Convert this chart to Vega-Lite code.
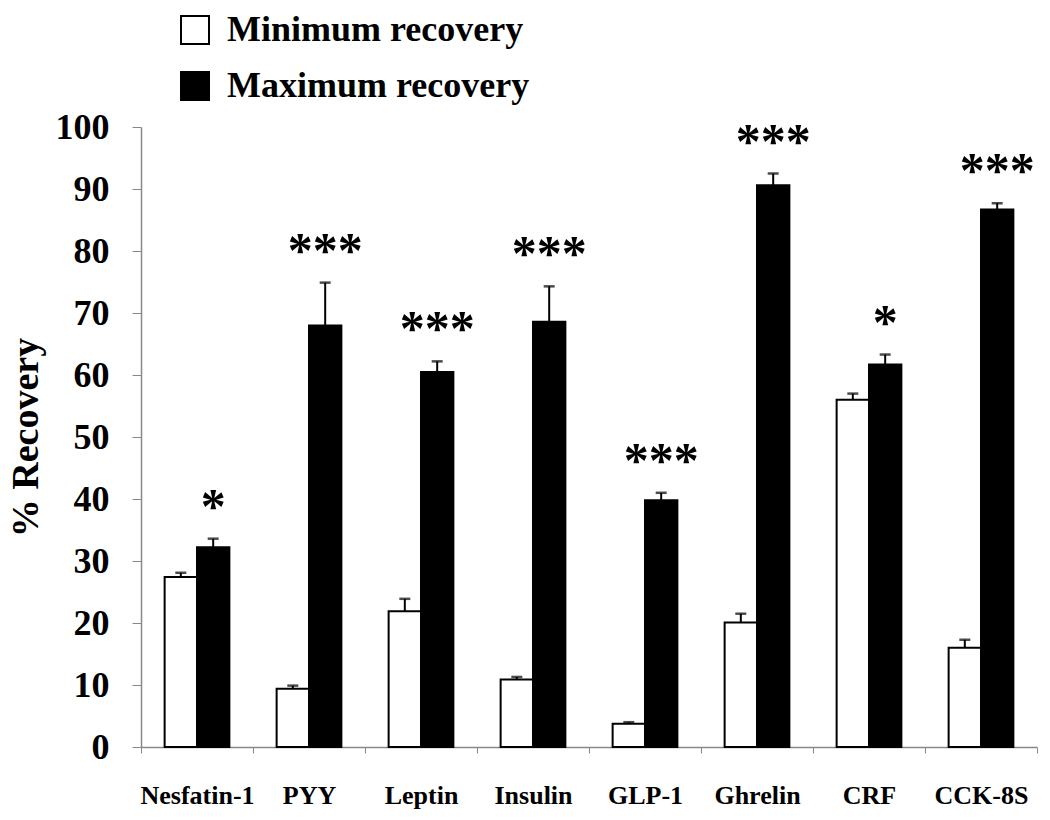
{
  "$schema": "https://vega.github.io/schema/vega-lite/v6.json",
  "autosize": {"type": "none"},
  "padding": {"left": 141, "top": 127, "right": 13, "bottom": 73},
  "width": 896,
  "height": 620,
  "background": "white",
  "config": {
    "view": {"stroke": null},
    "font": "Liberation Serif"
  },
  "data": {
    "values": [
      {"hormone": "Nesfatin-1", "group": "Minimum recovery", "value": 27.4, "upper": 28.1, "sig": ""},
      {"hormone": "Nesfatin-1", "group": "Maximum recovery", "value": 32.2, "upper": 33.6, "sig": "*"},
      {"hormone": "PYY", "group": "Minimum recovery", "value": 9.4, "upper": 9.9, "sig": ""},
      {"hormone": "PYY", "group": "Maximum recovery", "value": 68.0, "upper": 74.9, "sig": "***"},
      {"hormone": "Leptin", "group": "Minimum recovery", "value": 21.9, "upper": 23.9, "sig": ""},
      {"hormone": "Leptin", "group": "Maximum recovery", "value": 60.5, "upper": 62.2, "sig": "***"},
      {"hormone": "Insulin", "group": "Minimum recovery", "value": 10.9, "upper": 11.3, "sig": ""},
      {"hormone": "Insulin", "group": "Maximum recovery", "value": 68.6, "upper": 74.3, "sig": "***"},
      {"hormone": "GLP-1", "group": "Minimum recovery", "value": 3.75, "upper": 4.0, "sig": ""},
      {"hormone": "GLP-1", "group": "Maximum recovery", "value": 39.8, "upper": 41.0, "sig": "***"},
      {"hormone": "Ghrelin", "group": "Minimum recovery", "value": 20.1, "upper": 21.5, "sig": ""},
      {"hormone": "Ghrelin", "group": "Maximum recovery", "value": 90.6, "upper": 92.5, "sig": "***"},
      {"hormone": "CRF", "group": "Minimum recovery", "value": 56.0, "upper": 57.0, "sig": ""},
      {"hormone": "CRF", "group": "Maximum recovery", "value": 61.7, "upper": 63.3, "sig": "*"},
      {"hormone": "CCK-8S", "group": "Minimum recovery", "value": 16.0, "upper": 17.3, "sig": ""},
      {"hormone": "CCK-8S", "group": "Maximum recovery", "value": 86.7, "upper": 87.7, "sig": "***"}
    ]
  },
  "encoding": {
    "x": {
      "field": "hormone",
      "type": "nominal",
      "sort": ["Nesfatin-1", "PYY", "Leptin", "Insulin", "GLP-1", "Ghrelin", "CRF", "CCK-8S"],
      "scale": {"paddingInner": 0, "paddingOuter": 0},
      "axis": {
        "title": null,
        "labelAngle": 0,
        "labelFont": "Liberation Serif",
        "labelFontWeight": "bold",
        "labelFontSize": 26,
        "labelColor": "black",
        "labelPadding": 29,
        "tickBand": "extent",
        "tickSize": 6,
        "tickColor": "#888888",
        "domainColor": "#888888",
        "domainWidth": 1.5,
        "grid": false
      }
    },
    "xOffset": {
      "field": "group",
      "type": "nominal",
      "sort": ["Minimum recovery", "Maximum recovery"],
      "scale": {"paddingInner": 0, "paddingOuter": 0.73}
    }
  },
  "layer": [
    {
      "mark": {"type": "bar", "stroke": "black", "strokeWidth": 2},
      "encoding": {
        "y": {
          "field": "value",
          "type": "quantitative",
          "scale": {"domain": [0, 100], "nice": false},
          "axis": {
            "title": "% Recovery",
            "titleFont": "Liberation Serif",
            "titleFontSize": 38,
            "titleFontWeight": "bold",
            "titleColor": "black",
            "titlePadding": 10,
            "values": [0, 10, 20, 30, 40, 50, 60, 70, 80, 90, 100],
            "labelFont": "Liberation Serif",
            "labelFontSize": 36,
            "labelFontWeight": "bold",
            "labelColor": "black",
            "labelPadding": 23,
            "tickSize": 9,
            "tickColor": "#888888",
            "domainColor": "#888888",
            "domainWidth": 1.5,
            "grid": false
          }
        },
        "fill": {
          "field": "group",
          "type": "nominal",
          "sort": ["Minimum recovery", "Maximum recovery"],
          "scale": {"domain": ["Minimum recovery", "Maximum recovery"], "range": ["white", "black"]},
          "legend": {
            "title": null,
            "orient": "none",
            "legendX": 36,
            "legendY": -115,
            "padding": 0,
            "symbolType": "square",
            "symbolSize": 784,
            "symbolStrokeColor": "black",
            "symbolStrokeWidth": 2,
            "labelFont": "Liberation Serif",
            "labelFontSize": 36,
            "labelFontWeight": "bold",
            "labelColor": "black",
            "labelOffset": 14,
            "labelLimit": 500,
            "rowPadding": 20
          }
        }
      }
    },
    {
      "mark": {"type": "rule", "color": "black", "strokeWidth": 2},
      "encoding": {
        "y": {"field": "value", "type": "quantitative"},
        "y2": {"field": "upper"}
      }
    },
    {
      "mark": {"type": "tick", "color": "black", "thickness": 2.5, "size": 11, "orient": "horizontal"},
      "encoding": {
        "y": {"field": "upper", "type": "quantitative"}
      }
    },
    {
      "transform": [{"filter": "datum.sig != ''"}],
      "mark": {"type": "text", "font": "Liberation Serif", "fontWeight": "bold", "fontSize": 50, "baseline": "alphabetic", "dy": -16, "color": "black"},
      "encoding": {
        "y": {"field": "upper", "type": "quantitative"},
        "text": {"field": "sig"}
      }
    }
  ]
}
